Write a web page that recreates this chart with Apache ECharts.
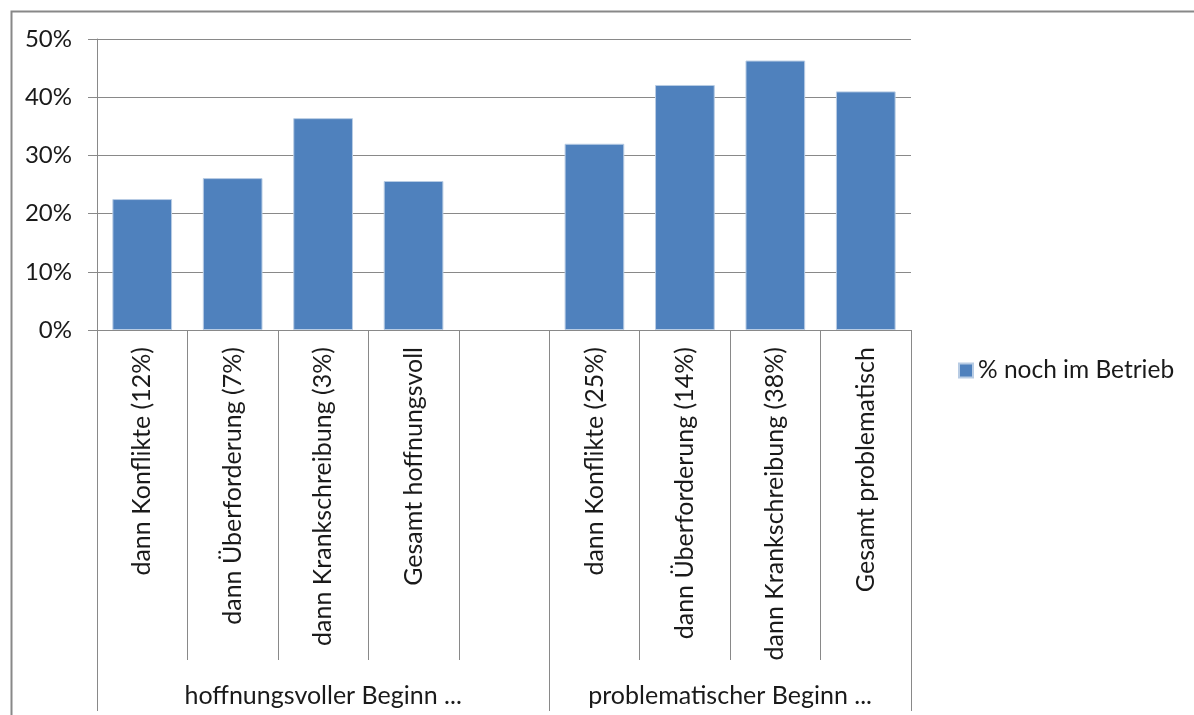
<!DOCTYPE html>
<html>
<head>
<meta charset="utf-8">
<script src="https://cdn.jsdelivr.net/npm/echarts@6/dist/echarts.min.js"></script>
<style>
html,body{margin:0;padding:0;background:#fff;}
#chart{width:1194px;height:715px;}
</style>
</head>
<body>
<div id="chart"></div>
<script>
const categories = [
  'dann Konflikte (12%)',
  'dann Überforderung (7%)',
  'dann Krankschreibung (3%)',
  'Gesamt hoffnungsvoll',
  '',
  'dann Konflikte (25%)',
  'dann Überforderung (14%)',
  'dann Krankschreibung (38%)',
  'Gesamt problematisch'
];
const values = [0.225, 0.261, 0.364, 0.256, null, 0.320, 0.421, 0.463, 0.410];
const groupLabels = ['hoffnungsvoller Beginn ...', 'problematischer Beginn ...'];
const groupCenters = [2.5, 7];
const groupBounds = [0, 5, 9];
const seriesName = '% noch im Betrieb';

const FONT = 'Lato';
const TXT = '#1a1a1a';
const GRAY = '#898989';

const chart = echarts.init(document.getElementById('chart'), null, {renderer: 'canvas'});
chart.setOption({
  animation: false,
  backgroundColor: '#fff',
  textStyle: {fontFamily: FONT},
  graphic: [{
    type: 'rect', left: 9, top: 9, silent: true, z: -1,
    shape: {x: 0, y: 0, width: 1300, height: 900},
    style: {fill: 'none', stroke: '#888', lineWidth: 2}
  }],
  legend: {
    left: 953, top: 353,
    icon: 'rect', itemWidth: 14, itemHeight: 14, itemGap: 8,
    textStyle: {fontFamily: FONT, fontSize: 24.5, color: TXT, padding: [0, 0, 0, 0]},
    data: [seriesName]
  },
  grid: {left: 97, right: 283, top: 39, bottom: 385, containLabel: false},
  xAxis: [{
    type: 'category',
    data: categories,
    boundaryGap: true,
    axisLine: {show: true, lineStyle: {color: GRAY, width: 1}},
    axisTick: {show: true, interval: 0, length: 330, lineStyle: {color: GRAY, width: 1}},
    axisLabel: {interval: 0, rotate: 90, margin: 17, fontFamily: FONT, fontSize: 25, color: TXT},
    splitLine: {show: false}
  }, {
    type: 'value',
    position: 'bottom',
    offset: 330,
    min: 0, max: 9,
    axisLine: {show: false},
    axisTick: {show: true, customValues: groupBounds, length: 51, lineStyle: {color: GRAY, width: 1}},
    axisLabel: {
      show: true, customValues: groupCenters, margin: 23,
      fontFamily: FONT, fontSize: 25, color: TXT,
      formatter: function (v) {
        const i = groupCenters.indexOf(v);
        return i >= 0 ? groupLabels[i] : '';
      }
    },
    splitLine: {show: false}
  }],
  yAxis: {
    type: 'value',
    min: 0, max: 0.5, interval: 0.1,
    axisLine: {show: true, lineStyle: {color: GRAY, width: 1}},
    axisTick: {show: true, length: 9, lineStyle: {color: GRAY, width: 1}},
    axisLabel: {
      margin: 25, fontFamily: FONT, fontSize: 24, color: TXT,
      formatter: function (v) { return Math.round(v * 100) + '%'; }
    },
    splitLine: {show: true, lineStyle: {color: GRAY, width: 1}}
  },
  series: [{
    name: seriesName,
    type: 'bar',
    xAxisIndex: 0,
    barWidth: '66%',
    data: values,
    itemStyle: {color: '#4f81bd', borderColor: '#b8cce4', borderWidth: 1}
  }]
});
</script>
</body>
</html>
